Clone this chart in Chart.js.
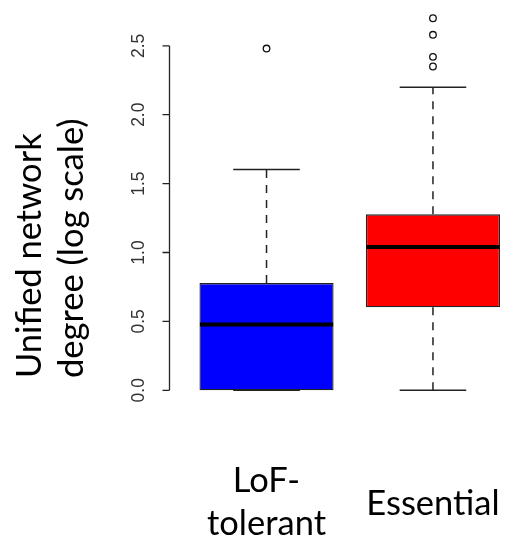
<!DOCTYPE html>
<html>
<head>
<meta charset="utf-8">
<script src="https://cdn.jsdelivr.net/npm/chart.js@4.4.1/dist/chart.umd.min.js"></script>
<style>
  html, body { margin: 0; padding: 0; background: #fff; }
  #wrap { width: 507px; height: 539px; }
</style>
</head>
<body>
<div id="wrap"><canvas id="myChart" width="507" height="539"></canvas></div>
<script>
// box plot data (log10 of degree)
const groupLabels = [['LoF-', 'tolerant'], ['Essential']];
const positions = [1, 2];
const q1 = [0, 0.602];
const medians = [0.477, 1.04];
const q3 = [0.778, 1.277];
const whiskerLow = [0, 0];
const whiskerHigh = [1.602, 2.2];
const outliers = [[2.48], [2.35, 2.42, 2.58, 2.70]];
const yTicks = [0, 0.5, 1, 1.5, 2, 2.5];
const boxColors = ['#0000ff', '#ff0000'];

const titleLines = ['Unified network', 'degree (log scale)'];
const labelFont = '34.5px Lato, "Open Sans", sans-serif';

const boxPlotExtras = {
  id: 'boxPlotExtras',
  afterDatasetsDraw(chart) {
    const c = chart.ctx;
    const xs = chart.scales.x, ys = chart.scales.y;
    c.save();
    c.strokeStyle = '#222';
    for (let i = 0; i < positions.length; i++) {
      const cx = xs.getPixelForValue(positions[i]);
      const capL = xs.getPixelForValue(positions[i] - 0.2);
      const capR = xs.getPixelForValue(positions[i] + 0.2);
      const boxL = xs.getPixelForValue(positions[i] - 0.4);
      const boxR = xs.getPixelForValue(positions[i] + 0.4);
      // dashed whiskers
      c.lineWidth = 1.5;
      c.setLineDash([8, 7]);
      c.beginPath();
      c.moveTo(cx, ys.getPixelForValue(q3[i]));
      c.lineTo(cx, ys.getPixelForValue(whiskerHigh[i]));
      if (q1[i] > whiskerLow[i]) {
        c.moveTo(cx, ys.getPixelForValue(q1[i]));
        c.lineTo(cx, ys.getPixelForValue(whiskerLow[i]));
      }
      c.stroke();
      // caps
      c.setLineDash([]);
      c.beginPath();
      c.moveTo(capL, ys.getPixelForValue(whiskerHigh[i]));
      c.lineTo(capR, ys.getPixelForValue(whiskerHigh[i]));
      c.moveTo(capL, ys.getPixelForValue(whiskerLow[i]));
      c.lineTo(capR, ys.getPixelForValue(whiskerLow[i]));
      c.stroke();
      // median
      c.strokeStyle = '#000';
      c.lineWidth = 4;
      c.beginPath();
      c.moveTo(boxL, ys.getPixelForValue(medians[i]));
      c.lineTo(boxR, ys.getPixelForValue(medians[i]));
      c.stroke();
      c.strokeStyle = '#222';
    }
    c.restore();
  },
  afterDraw(chart) {
    const c = chart.ctx;
    const xs = chart.scales.x, ys = chart.scales.y;
    const axisX = chart.chartArea.left + 0.5;
    c.save();
    // y axis line (only over tick range) and ticks
    c.strokeStyle = '#222';
    c.lineWidth = 1.3;
    c.beginPath();
    c.moveTo(axisX, ys.getPixelForValue(yTicks[0]));
    c.lineTo(axisX, ys.getPixelForValue(yTicks[yTicks.length - 1]));
    yTicks.forEach(t => {
      const py = ys.getPixelForValue(t);
      c.moveTo(axisX - 7, py);
      c.lineTo(axisX, py);
    });
    c.stroke();
    // rotated tick labels
    c.fillStyle = '#333';
    c.font = '17.5px "Liberation Sans", Arial, sans-serif';
    c.textAlign = 'center';
    c.textBaseline = 'alphabetic';
    yTicks.forEach(t => {
      c.save();
      c.translate(144, ys.getPixelForValue(t));
      c.rotate(-Math.PI / 2);
      c.fillText(t.toFixed(1), 0, 0);
      c.restore();
    });
    // y title, two lines, left aligned
    c.fillStyle = '#000';
    c.font = labelFont;
    c.textAlign = 'left';
    const baselines = [41, 83];
    titleLines.forEach((line, k) => {
      c.save();
      c.translate(baselines[k], 378);
      c.rotate(-Math.PI / 2);
      c.fillText(line, 0, 0);
      c.restore();
    });
    // category labels
    c.textAlign = 'center';
    const labelBaselines = [[492, 535], [515]];
    groupLabels.forEach((lines, i) => {
      const px = xs.getPixelForValue(positions[i]);
      lines.forEach((line, k) => c.fillText(line, px, labelBaselines[i][k]));
    });
    c.restore();
  }
};

const ctx = document.getElementById('myChart').getContext('2d');
const myChart = new Chart(ctx, {
  type: 'bar',
  data: {
    datasets: [
      {
        label: 'box',
        data: positions.map((p, i) => ({ x: p, y: [q1[i], q3[i]] })),
        backgroundColor: boxColors,
        borderColor: '#222',
        borderWidth: 1.3,
        borderSkipped: false,
        categoryPercentage: 0.806,
        barPercentage: 1.0,
        order: 2
      },
      {
        type: 'scatter',
        label: 'outliers',
        data: outliers.flatMap((vals, i) => vals.map(v => ({ x: positions[i], y: v }))),
        pointStyle: 'circle',
        pointRadius: 3.3,
        pointBorderWidth: 1.3,
        pointBorderColor: '#111',
        pointBackgroundColor: '#fff',
        order: 1
      }
    ]
  },
  plugins: [boxPlotExtras],
  options: {
    responsive: false,
    animation: false,
    layout: {
      padding: { left: 169, right: 2, top: 0, bottom: 129 }
    },
    plugins: {
      legend: { display: false },
      tooltip: { enabled: false }
    },
    scales: {
      x: {
        type: 'linear',
        display: false,
        offset: false,
        grid: { offset: false },
        min: 0.414,
        max: 2.413,
        afterBuildTicks: s => { s.ticks = positions.map(v => ({ value: v })); }
      },
      y: {
        display: false,
        min: -0.143,
        max: 2.794
      }
    }
  }
});
</script>
</body>
</html>
